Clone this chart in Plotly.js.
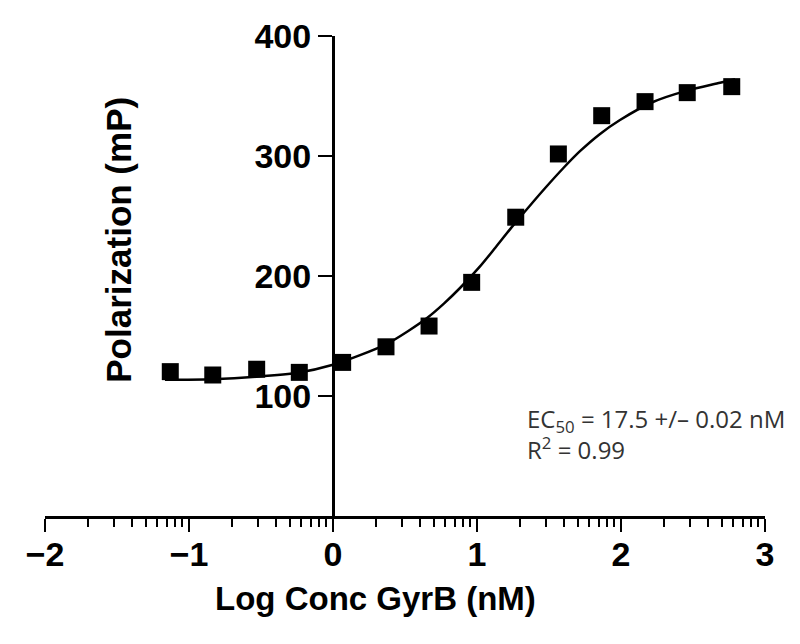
<!DOCTYPE html>
<html>
<head>
<meta charset="utf-8">
<script src="https://cdn.plot.ly/plotly-3.0.1.min.js"></script>
<style>
  html, body { margin: 0; padding: 0; background: #fff; }
  #chart { width: 800px; height: 644px; }
</style>
</head>
<body>
<div id="chart"></div>
<script>
// measured points (log nM vs mP)
var logConc = [-1.13, -0.835, -0.53, -0.234, 0.067, 0.368, 0.667, 0.963, 1.269, 1.565, 1.866, 2.167, 2.46, 2.769];
var polarization = [120.3, 117.5, 122.3, 119.7, 128, 141, 158.3, 194.7, 249, 301.7, 333.6, 345.3, 352.8, 357.8];

// fitted curve
var fitX = [-1.167, -0.84, -0.535, -0.236, 0, 0.188, 0.368, 0.52, 0.653, 0.77, 0.882, 1.021, 1.13, 1.25, 1.37, 1.486, 1.6, 1.715, 1.85, 1.993, 2.222, 2.458, 2.688, 2.792];
var fitY = [113.5, 114, 116, 119.5, 126, 134, 143, 154, 165, 177, 190, 208, 224, 242, 259, 275, 290, 304, 318, 330, 345, 354.5, 361, 364];

var xTicks = [-2, -1, 0, 1, 2, 3];
var xLabels = ["\u22122", "\u22121", "0", "1", "2", "3"];
var yTicks = [100, 200, 300, 400];

// log-style minor ticks inside each decade
var minorTicks = [];
for (var d = -2; d < 3; d++) {
  for (var k = 2; k <= 9; k++) minorTicks.push(d + Math.log10(k));
}

var boldFont = "Liberation Sans, Arial, sans-serif";
var tickFont = {family: boldFont, size: 34, color: "#000", weight: "bold"};

var fit = {
  x: fitX, y: fitY,
  mode: "lines",
  line: {color: "#000", width: 2.5, shape: "spline", smoothing: 0.8},
  hoverinfo: "skip",
  showlegend: false
};

var pts = {
  x: logConc, y: polarization,
  mode: "markers",
  marker: {symbol: "square", size: 17, color: "#000"},
  showlegend: false
};

var layout = {
  width: 800, height: 644,
  margin: {l: 45, r: 35, t: 36, b: 128},
  paper_bgcolor: "#fff",
  plot_bgcolor: "#fff",
  showlegend: false,
  xaxis: {
    range: [-2, 3],
    tickvals: xTicks,
    ticktext: xLabels,
    ticks: "outside", ticklen: 13, tickwidth: 2.5, tickcolor: "#000",
    ticklabelstandoff: -6,
    minor: {tickmode: "array", tickvals: minorTicks, ticks: "outside", ticklen: 8, tickwidth: 2, tickcolor: "#000"},
    showline: true, linecolor: "#000", linewidth: 2.5,
    showgrid: false, zeroline: false,
    tickfont: tickFont,
    fixedrange: true
  },
  yaxis: {
    range: [0, 400],
    anchor: "free", position: 0.4,
    tickvals: yTicks,
    ticks: "outside", ticklen: 14, tickwidth: 2.5, tickcolor: "#000",
    showline: true, linecolor: "#000", linewidth: 2.5,
    showgrid: false, zeroline: false,
    tickfont: tickFont,
    fixedrange: true
  },
  annotations: [
    {
      xref: "paper", yref: "paper", x: 0.459, y: -0.172,
      xanchor: "center", yanchor: "middle",
      text: "<b>Log Conc GyrB (nM)</b>", showarrow: false,
      font: {family: boldFont, size: 33, color: "#000"}
    },
    {
      xref: "paper", yref: "paper", x: 0.101, y: 0.575,
      xanchor: "center", yanchor: "middle",
      text: "<b>Polarization (mP)</b>", showarrow: false, textangle: -90,
      font: {family: boldFont, size: 35, color: "#000"}
    },
    {
      xref: "x", yref: "y", x: 1.33, y: 68,
      xanchor: "left", yanchor: "middle", align: "left",
      text: "EC<sub>50</sub> = 17.5 +/\u2013 0.02 nM<br>R<sup>2</sup> = 0.99",
      showarrow: false,
      font: {family: "Open Sans, sans-serif", size: 24, color: "#333"}
    }
  ]
};

Plotly.newPlot("chart", [fit, pts], layout, {displayModeBar: false, staticPlot: true});
</script>
</body>
</html>
